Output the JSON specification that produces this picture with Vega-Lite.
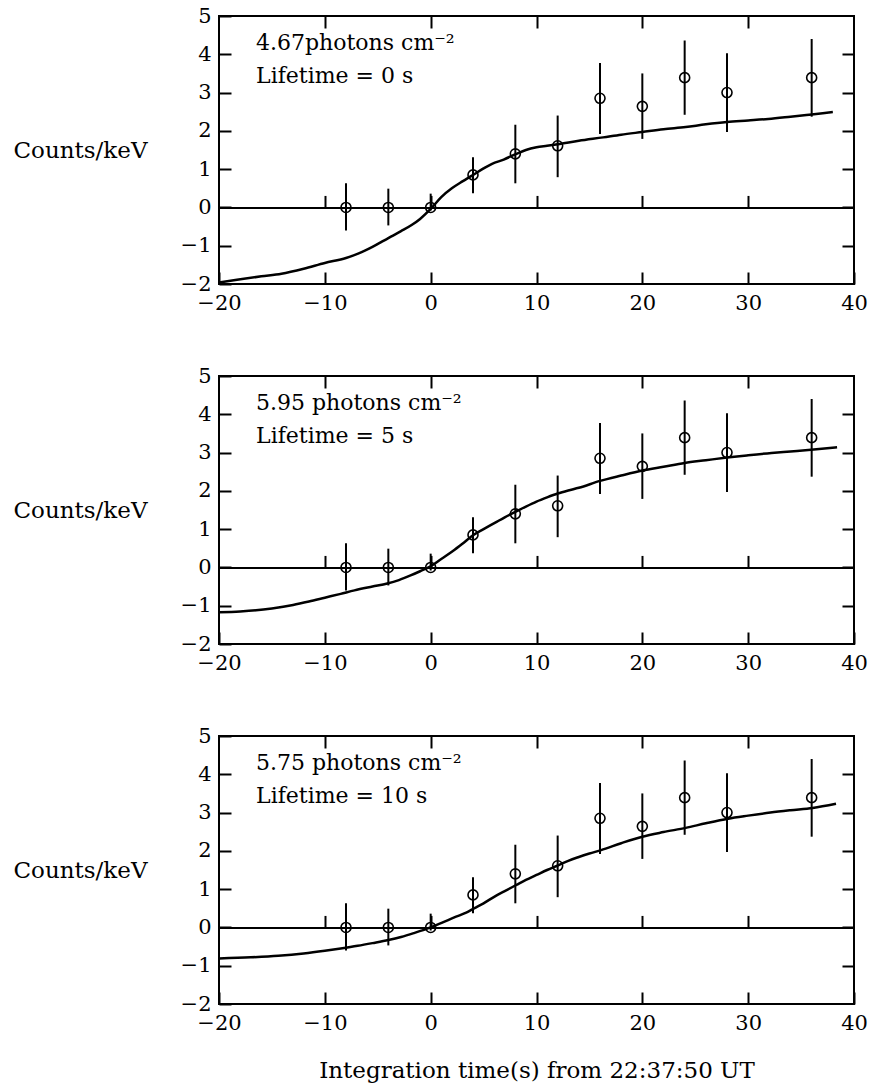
{
  "$schema": "https://vega.github.io/schema/vega-lite/v6.json",
  "padding": {"left": 12, "top": 4, "right": 4, "bottom": 2},
  "spacing": 92,
  "bounds": "flush",
  "datasets": {
    "pts": [
      {"x": -8, "y": 0, "lo": -0.6, "hi": 0.63},
      {"x": -4, "y": 0, "lo": -0.47, "hi": 0.49},
      {"x": 0, "y": 0, "lo": -0.08, "hi": 0.36},
      {"x": 4, "y": 0.85, "lo": 0.37, "hi": 1.31},
      {"x": 8, "y": 1.4, "lo": 0.63, "hi": 2.16},
      {"x": 12, "y": 1.61, "lo": 0.79, "hi": 2.4},
      {"x": 16, "y": 2.85, "lo": 1.92, "hi": 3.77},
      {"x": 20, "y": 2.64, "lo": 1.79, "hi": 3.5},
      {"x": 24, "y": 3.39, "lo": 2.42, "hi": 4.36},
      {"x": 28, "y": 3.0, "lo": 1.97, "hi": 4.03},
      {"x": 36, "y": 3.39, "lo": 2.37, "hi": 4.4}
    ],
    "notes": [
      {"panel": 1, "line1": "4.67photons cm⁻²", "line2": "Lifetime = 0 s"},
      {"panel": 2, "line1": "5.95 photons cm⁻²", "line2": "Lifetime = 5 s"},
      {"panel": 3, "line1": "5.75 photons cm⁻²", "line2": "Lifetime = 10 s"}
    ],
    "curve": [
      {"panel": 1, "x": -20, "y": -1.96}, {"panel": 1, "x": -18.3, "y": -1.89}, {"panel": 1, "x": -16, "y": -1.8}, {"panel": 1, "x": -14.1, "y": -1.73}, {"panel": 1, "x": -12, "y": -1.6}, {"panel": 1, "x": -10, "y": -1.45}, {"panel": 1, "x": -8, "y": -1.32}, {"panel": 1, "x": -6.8, "y": -1.2}, {"panel": 1, "x": -5.5, "y": -1.03}, {"panel": 1, "x": -4, "y": -0.8}, {"panel": 1, "x": -2.8, "y": -0.62}, {"panel": 1, "x": -1.8, "y": -0.46}, {"panel": 1, "x": -1, "y": -0.3}, {"panel": 1, "x": 0, "y": -0.04}, {"panel": 1, "x": 1, "y": 0.27}, {"panel": 1, "x": 2, "y": 0.5}, {"panel": 1, "x": 3, "y": 0.68}, {"panel": 1, "x": 3.9, "y": 0.83}, {"panel": 1, "x": 5, "y": 1.02}, {"panel": 1, "x": 5.8, "y": 1.14}, {"panel": 1, "x": 6.9, "y": 1.25}, {"panel": 1, "x": 8.1, "y": 1.4}, {"panel": 1, "x": 9, "y": 1.5}, {"panel": 1, "x": 10, "y": 1.57}, {"panel": 1, "x": 11, "y": 1.61}, {"panel": 1, "x": 12, "y": 1.65}, {"panel": 1, "x": 14, "y": 1.74}, {"panel": 1, "x": 16.3, "y": 1.83}, {"panel": 1, "x": 18, "y": 1.9}, {"panel": 1, "x": 20, "y": 1.97}, {"panel": 1, "x": 22, "y": 2.04}, {"panel": 1, "x": 24.1, "y": 2.1}, {"panel": 1, "x": 26, "y": 2.17}, {"panel": 1, "x": 28, "y": 2.23}, {"panel": 1, "x": 30, "y": 2.27}, {"panel": 1, "x": 31.9, "y": 2.31}, {"panel": 1, "x": 34, "y": 2.37}, {"panel": 1, "x": 36, "y": 2.43}, {"panel": 1, "x": 38, "y": 2.49},
      {"panel": 2, "x": -20, "y": -1.17}, {"panel": 2, "x": -18, "y": -1.15}, {"panel": 2, "x": -16.5, "y": -1.12}, {"panel": 2, "x": -15, "y": -1.07}, {"panel": 2, "x": -13, "y": -0.98}, {"panel": 2, "x": -11.5, "y": -0.89}, {"panel": 2, "x": -10, "y": -0.79}, {"panel": 2, "x": -8.5, "y": -0.69}, {"panel": 2, "x": -7.2, "y": -0.6}, {"panel": 2, "x": -5.5, "y": -0.5}, {"panel": 2, "x": -4.1, "y": -0.42}, {"panel": 2, "x": -3, "y": -0.33}, {"panel": 2, "x": -1.9, "y": -0.21}, {"panel": 2, "x": -1, "y": -0.1}, {"panel": 2, "x": 0, "y": 0.03}, {"panel": 2, "x": 1, "y": 0.22}, {"panel": 2, "x": 2.1, "y": 0.43}, {"panel": 2, "x": 3, "y": 0.62}, {"panel": 2, "x": 4, "y": 0.84}, {"panel": 2, "x": 5, "y": 1.0}, {"panel": 2, "x": 6.1, "y": 1.17}, {"panel": 2, "x": 7, "y": 1.31}, {"panel": 2, "x": 8, "y": 1.45}, {"panel": 2, "x": 9, "y": 1.59}, {"panel": 2, "x": 10, "y": 1.72}, {"panel": 2, "x": 11, "y": 1.83}, {"panel": 2, "x": 12, "y": 1.93}, {"panel": 2, "x": 13, "y": 2.01}, {"panel": 2, "x": 14, "y": 2.08}, {"panel": 2, "x": 16, "y": 2.26}, {"panel": 2, "x": 18, "y": 2.4}, {"panel": 2, "x": 20, "y": 2.53}, {"panel": 2, "x": 22, "y": 2.63}, {"panel": 2, "x": 24, "y": 2.73}, {"panel": 2, "x": 26, "y": 2.8}, {"panel": 2, "x": 28, "y": 2.87}, {"panel": 2, "x": 30, "y": 2.93}, {"panel": 2, "x": 32.2, "y": 2.99}, {"panel": 2, "x": 34, "y": 3.03}, {"panel": 2, "x": 36.2, "y": 3.08}, {"panel": 2, "x": 38.4, "y": 3.14},
      {"panel": 3, "x": -20, "y": -0.81}, {"panel": 3, "x": -17, "y": -0.78}, {"panel": 3, "x": -14.4, "y": -0.74}, {"panel": 3, "x": -12, "y": -0.68}, {"panel": 3, "x": -10, "y": -0.61}, {"panel": 3, "x": -8.5, "y": -0.55}, {"panel": 3, "x": -6.9, "y": -0.48}, {"panel": 3, "x": -5.5, "y": -0.41}, {"panel": 3, "x": -4, "y": -0.33}, {"panel": 3, "x": -2.8, "y": -0.25}, {"panel": 3, "x": -1.6, "y": -0.15}, {"panel": 3, "x": 0, "y": 0}, {"panel": 3, "x": 1.2, "y": 0.14}, {"panel": 3, "x": 2.4, "y": 0.28}, {"panel": 3, "x": 3.3, "y": 0.38}, {"panel": 3, "x": 4.1, "y": 0.5}, {"panel": 3, "x": 5, "y": 0.63}, {"panel": 3, "x": 6, "y": 0.8}, {"panel": 3, "x": 7, "y": 0.95}, {"panel": 3, "x": 8.1, "y": 1.11}, {"panel": 3, "x": 9, "y": 1.24}, {"panel": 3, "x": 10, "y": 1.37}, {"panel": 3, "x": 11, "y": 1.5}, {"panel": 3, "x": 12.1, "y": 1.63}, {"panel": 3, "x": 13, "y": 1.74}, {"panel": 3, "x": 14, "y": 1.84}, {"panel": 3, "x": 15, "y": 1.93}, {"panel": 3, "x": 16.1, "y": 2.02}, {"panel": 3, "x": 18, "y": 2.2}, {"panel": 3, "x": 20, "y": 2.37}, {"panel": 3, "x": 22, "y": 2.49}, {"panel": 3, "x": 24.1, "y": 2.6}, {"panel": 3, "x": 26, "y": 2.72}, {"panel": 3, "x": 28.1, "y": 2.84}, {"panel": 3, "x": 30, "y": 2.92}, {"panel": 3, "x": 32.1, "y": 3.0}, {"panel": 3, "x": 34, "y": 3.06}, {"panel": 3, "x": 36.1, "y": 3.12}, {"panel": 3, "x": 38.3, "y": 3.23}
    ]
  },
  "vconcat": [
    {
      "width": 635, "height": 268,
      "resolve": {"axis": {"x": "independent", "y": "independent"}},
      "layer": [
        {"data": {"name": "curve"}, "transform": [{"filter": "datum.panel == 1"}],
         "mark": {"type": "line", "color": "black", "strokeWidth": 2.5, "interpolate": "monotone"},
         "encoding": {
           "x": {"field": "x", "type": "quantitative", "scale": {"domain": [-20, 40], "nice": false, "zero": false},
                 "axis": {"orient": "bottom", "values": [-20, -10, 0, 10, 20, 30, 40], "tickSize": -12, "labelPadding": 20, "title": null}},
           "y": {"field": "y", "type": "quantitative", "scale": {"domain": [-2, 5], "nice": false, "zero": false},
                 "axis": {"orient": "left", "values": [-2, -1, 0, 1, 2, 3, 4, 5], "tickSize": -12, "labelPadding": 20, "title": "Counts/keV", "titleAngle": 0, "titleAlign": "left", "titleBaseline": "middle", "titleX": -206, "titleY": 134}}
         }},
        {"data": {"name": "pts"},
         "mark": {"type": "rule", "color": "black", "strokeWidth": 2},
         "encoding": {
           "x": {"field": "x", "type": "quantitative", "axis": {"orient": "top", "values": [-10, 0, 10, 20, 30], "tickSize": -12, "labels": false, "title": null}},
           "y": {"field": "lo", "type": "quantitative", "axis": {"orient": "right", "values": [-1, 0, 1, 2, 3, 4], "tickSize": -12, "labels": false, "title": null}},
           "y2": {"field": "hi"}
         }},
        {"data": {"name": "pts"},
         "mark": {"type": "point", "shape": "circle", "filled": false, "color": "black", "strokeWidth": 1.6, "size": 100, "opacity": 1},
         "encoding": {
           "x": {"field": "x", "type": "quantitative", "axis": {"orient": "top", "offset": -191.43, "values": [-10, 0, 10, 20, 30], "tickSize": 12, "labels": false, "domain": true, "domainColor": "black", "domainWidth": 2, "title": null}},
           "y": {"field": "y", "type": "quantitative", "axis": null}
         }},
        {"data": {"name": "notes"}, "transform": [{"filter": "datum.panel == 1"}],
         "mark": {"type": "text", "align": "left", "baseline": "alphabetic"},
         "encoding": {
           "text": {"field": "line1"},
           "x": {"datum": -16.5, "type": "quantitative", "axis": null},
           "y": {"datum": 4.11, "type": "quantitative", "axis": null}
         }},
        {"data": {"name": "notes"}, "transform": [{"filter": "datum.panel == 1"}],
         "mark": {"type": "text", "align": "left", "baseline": "alphabetic"},
         "encoding": {
           "text": {"field": "line2"},
           "x": {"datum": -16.5, "type": "quantitative", "axis": null},
           "y": {"datum": 3.25, "type": "quantitative", "axis": null}
         }}
      ]
    },
    {
      "width": 635, "height": 268,
      "resolve": {"axis": {"x": "independent", "y": "independent"}},
      "layer": [
        {"data": {"name": "curve"}, "transform": [{"filter": "datum.panel == 2"}],
         "mark": {"type": "line", "color": "black", "strokeWidth": 2.5, "interpolate": "monotone"},
         "encoding": {
           "x": {"field": "x", "type": "quantitative", "scale": {"domain": [-20, 40], "nice": false, "zero": false},
                 "axis": {"orient": "bottom", "values": [-20, -10, 0, 10, 20, 30, 40], "tickSize": -12, "labelPadding": 20, "title": null}},
           "y": {"field": "y", "type": "quantitative", "scale": {"domain": [-2, 5], "nice": false, "zero": false},
                 "axis": {"orient": "left", "values": [-2, -1, 0, 1, 2, 3, 4, 5], "tickSize": -12, "labelPadding": 20, "title": "Counts/keV", "titleAngle": 0, "titleAlign": "left", "titleBaseline": "middle", "titleX": -206, "titleY": 134}}
         }},
        {"data": {"name": "pts"},
         "mark": {"type": "rule", "color": "black", "strokeWidth": 2},
         "encoding": {
           "x": {"field": "x", "type": "quantitative", "axis": {"orient": "top", "values": [-10, 0, 10, 20, 30], "tickSize": -12, "labels": false, "title": null}},
           "y": {"field": "lo", "type": "quantitative", "axis": {"orient": "right", "values": [-1, 0, 1, 2, 3, 4], "tickSize": -12, "labels": false, "title": null}},
           "y2": {"field": "hi"}
         }},
        {"data": {"name": "pts"},
         "mark": {"type": "point", "shape": "circle", "filled": false, "color": "black", "strokeWidth": 1.6, "size": 100, "opacity": 1},
         "encoding": {
           "x": {"field": "x", "type": "quantitative", "axis": {"orient": "top", "offset": -191.43, "values": [-10, 0, 10, 20, 30], "tickSize": 12, "labels": false, "domain": true, "domainColor": "black", "domainWidth": 2, "title": null}},
           "y": {"field": "y", "type": "quantitative", "axis": null}
         }},
        {"data": {"name": "notes"}, "transform": [{"filter": "datum.panel == 2"}],
         "mark": {"type": "text", "align": "left", "baseline": "alphabetic"},
         "encoding": {
           "text": {"field": "line1"},
           "x": {"datum": -16.5, "type": "quantitative", "axis": null},
           "y": {"datum": 4.11, "type": "quantitative", "axis": null}
         }},
        {"data": {"name": "notes"}, "transform": [{"filter": "datum.panel == 2"}],
         "mark": {"type": "text", "align": "left", "baseline": "alphabetic"},
         "encoding": {
           "text": {"field": "line2"},
           "x": {"datum": -16.5, "type": "quantitative", "axis": null},
           "y": {"datum": 3.25, "type": "quantitative", "axis": null}
         }}
      ]
    },
    {
      "width": 635, "height": 268,
      "resolve": {"axis": {"x": "independent", "y": "independent"}},
      "layer": [
        {"data": {"name": "curve"}, "transform": [{"filter": "datum.panel == 3"}],
         "mark": {"type": "line", "color": "black", "strokeWidth": 2.5, "interpolate": "monotone"},
         "encoding": {
           "x": {"field": "x", "type": "quantitative", "scale": {"domain": [-20, 40], "nice": false, "zero": false},
                 "axis": {"orient": "bottom", "values": [-20, -10, 0, 10, 20, 30, 40], "tickSize": -12, "labelPadding": 20, "title": "Integration time(s) from 22:37:50 UT", "titleBaseline": "alphabetic", "titleY": 73}},
           "y": {"field": "y", "type": "quantitative", "scale": {"domain": [-2, 5], "nice": false, "zero": false},
                 "axis": {"orient": "left", "values": [-2, -1, 0, 1, 2, 3, 4, 5], "tickSize": -12, "labelPadding": 20, "title": "Counts/keV", "titleAngle": 0, "titleAlign": "left", "titleBaseline": "middle", "titleX": -206, "titleY": 134}}
         }},
        {"data": {"name": "pts"},
         "mark": {"type": "rule", "color": "black", "strokeWidth": 2},
         "encoding": {
           "x": {"field": "x", "type": "quantitative", "axis": {"orient": "top", "values": [-10, 0, 10, 20, 30], "tickSize": -12, "labels": false, "title": null}},
           "y": {"field": "lo", "type": "quantitative", "axis": {"orient": "right", "values": [-1, 0, 1, 2, 3, 4], "tickSize": -12, "labels": false, "title": null}},
           "y2": {"field": "hi"}
         }},
        {"data": {"name": "pts"},
         "mark": {"type": "point", "shape": "circle", "filled": false, "color": "black", "strokeWidth": 1.6, "size": 100, "opacity": 1},
         "encoding": {
           "x": {"field": "x", "type": "quantitative", "axis": {"orient": "top", "offset": -191.43, "values": [-10, 0, 10, 20, 30], "tickSize": 12, "labels": false, "domain": true, "domainColor": "black", "domainWidth": 2, "title": null}},
           "y": {"field": "y", "type": "quantitative", "axis": null}
         }},
        {"data": {"name": "notes"}, "transform": [{"filter": "datum.panel == 3"}],
         "mark": {"type": "text", "align": "left", "baseline": "alphabetic"},
         "encoding": {
           "text": {"field": "line1"},
           "x": {"datum": -16.5, "type": "quantitative", "axis": null},
           "y": {"datum": 4.11, "type": "quantitative", "axis": null}
         }},
        {"data": {"name": "notes"}, "transform": [{"filter": "datum.panel == 3"}],
         "mark": {"type": "text", "align": "left", "baseline": "alphabetic"},
         "encoding": {
           "text": {"field": "line2"},
           "x": {"datum": -16.5, "type": "quantitative", "axis": null},
           "y": {"datum": 3.25, "type": "quantitative", "axis": null}
         }}
      ]
    }
  ],
  "config": {
    "font": "DejaVu Serif",
    "background": "white",
    "view": {"stroke": "black", "strokeWidth": 2},
    "axis": {
      "grid": false, "domain": false,
      "labelFont": "DejaVu Serif", "labelFontSize": 21, "labelColor": "black", "labelFlush": false,
      "tickColor": "black", "tickWidth": 2,
      "titleFont": "DejaVu Serif", "titleFontSize": 23, "titleFontWeight": "normal", "titleColor": "black"
    },
    "text": {"font": "DejaVu Serif", "fontSize": 22, "color": "black"}
  }
}
